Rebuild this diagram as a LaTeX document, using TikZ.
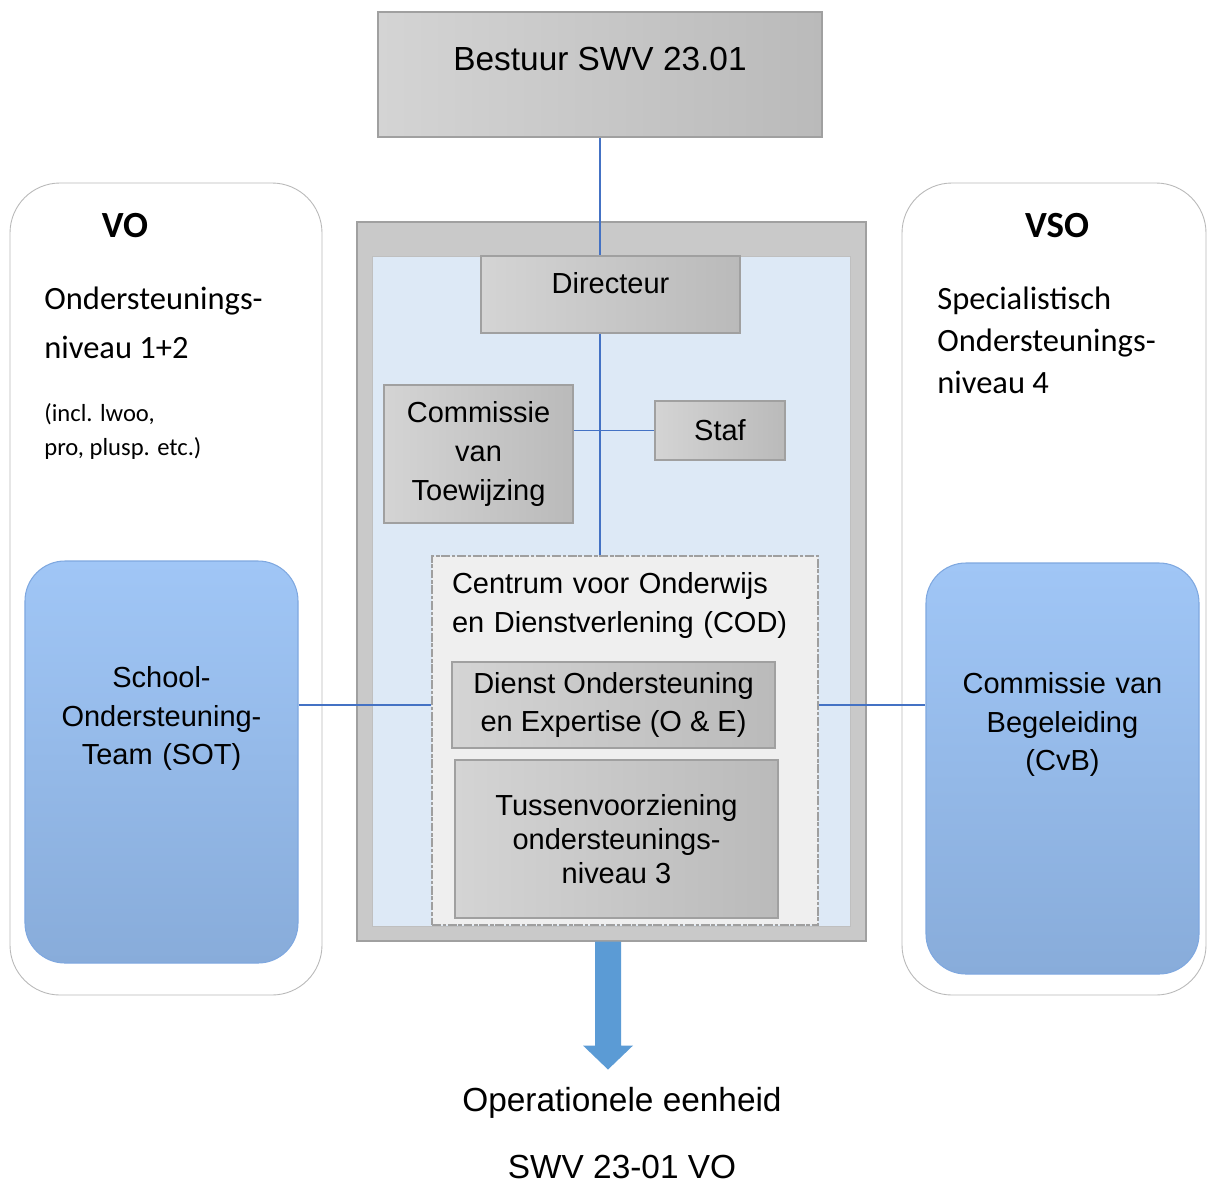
\documentclass[tikz,border=0pt]{standalone}
\usepackage{fontspec}
\setmainfont{Liberation Sans}
\newfontfamily\calibfont{Carlito}
\usetikzlibrary{positioning}
\definecolor{boxlight}{HTML}{D4D4D4}
\definecolor{boxdark}{HTML}{BABABA}
\definecolor{boxline}{HTML}{A0A0A0}
\definecolor{framefill}{HTML}{C9C9C9}
\definecolor{innerblue}{HTML}{DDE9F6}
\definecolor{codfill}{HTML}{EFEFEF}
\definecolor{teamlight}{HTML}{A0C6F6}
\definecolor{teamdark}{HTML}{88ACDA}
\definecolor{teamline}{HTML}{7FA8E0}
\definecolor{linkblue}{HTML}{4472C4}
\definecolor{arrowblue}{HTML}{5B9BD5}

\begin{document}
\begin{tikzpicture}[node distance=1.36cm,
                    grey box/.style={draw=boxline,line width=0.6pt,left color=boxlight,right color=boxdark,inner sep=0pt,align=center,font=\fontsize{16.5}{22}\selectfont},
                    team box/.style={draw=teamline,line width=0.6pt,top color=teamlight,bottom color=teamdark,rounded corners=0.8cm,inner sep=0pt,text width=5cm,align=center,font=\fontsize{16.5}{22}\selectfont},
                    side box/.style={draw=gray!55,line width=0.5pt,fill=white,rounded corners=1cm,inner sep=0pt},
                    side text/.style={anchor=base west,align=left,inner sep=0pt},
                    bottom text/.style={font=\fontsize{19}{23}\selectfont,text height=14pt,text depth=3pt,inner sep=3pt},
                    link/.style={draw=linkblue,line width=0.7pt}]
    \path[use as bounding box,fill=white] (0,0) rectangle (24.16,-23.66);

    % side columns
    \node[side box,minimum width=6.24cm,minimum height=16.24cm] (vobox) at (3.32,-11.78) {};
    \node[side box,minimum width=6.08cm,minimum height=16.24cm] (vsobox) at (21.08,-11.78) {};
    \node[font=\fontsize{21}{25}\selectfont\calibfont\bfseries] (vo) at (2.5,-4.52) {VO};
    \node[font=\fontsize{21}{25}\selectfont\calibfont\bfseries] (vso) at (21.14,-4.52) {VSO};
    \node[side text,font=\fontsize{18.5}{27.8}\selectfont\calibfont] (voniveau) at (0.88,-7.16) {Ondersteunings-\\niveau 1+2};
    \node[side text,font=\fontsize{14}{19.3}\selectfont\calibfont] (voincl) at (0.88,-9.10) {(incl. lwoo,\\pro, plusp. etc.)};
    \node[side text,font=\fontsize{18.5}{23.8}\selectfont\calibfont] (vsoniveau) at (18.74,-7.86) {Specialistisch\\Ondersteunings-\\niveau 4};
    \node[team box,minimum width=5.46cm,text height=2.53cm,text depth=5.51cm] (sot) at (3.23,-15.24) {School-\\Ondersteuning-\\Team (SOT)};
    \node[team box,minimum width=5.46cm,text height=2.61cm,text depth=5.61cm] (cvb) at (21.25,-15.37) {Commissie van\\Begeleiding\\(CvB)};

    % top and central block
    \node[grey box,minimum width=8.88cm,text height=1.16cm,text depth=1.34cm,font=\fontsize{19}{23}\selectfont] (bestuur) at (12.0,-1.49) {Bestuur SWV 23.01};
    \node[draw=boxline,fill=framefill,line width=0.6pt,inner sep=0pt,minimum width=10.18cm,minimum height=14.38cm] (frame) at (12.23,-11.63) {};
    \node[draw=gray!50,fill=innerblue,line width=0.5pt,inner sep=0pt,minimum width=9.56cm,minimum height=13.40cm] (inner) at (12.22,-11.82) {};
    \node[grey box,minimum width=5.18cm,text height=0.75cm,text depth=0.79cm] (dir) at (12.21,-5.89) {Directeur};
    \node[grey box,minimum width=3.78cm,minimum height=2.76cm] (cvt) at (9.57,-9.08) {Commissie\\van\\Toewijzing};
    \node[grey box,minimum width=2.60cm,minimum height=1.18cm] (staf) at (14.40,-8.61) {Staf};
    \node[draw=gray!75,dash pattern=on 5pt off 1pt on 2pt off 1pt,line width=1.3pt,fill=codfill,inner xsep=0.4cm,inner ysep=0pt,
          text width=6.92cm,align=left,text height=0.75cm,text depth=6.63cm,font=\fontsize{16.5}{22}\selectfont] (cod) at (12.50,-14.81) {Centrum voor Onderwijs\\en Dienstverlening (COD)};
    \node[grey box,minimum width=6.46cm,minimum height=1.72cm] (oe) at (12.27,-14.10) {Dienst Ondersteuning\\en Expertise (O \& E)};
    \node[grey box,minimum width=6.46cm,minimum height=3.16cm,font=\fontsize{16.5}{19.3}\selectfont] (tv) at (12.33,-16.78) {Tussenvoorziening\\ondersteunings-\\niveau 3};

    % connectors
    \draw[link] (bestuur.south) -- (bestuur.south |- dir.north);
    \draw[link] (bestuur.south |- dir.south) -- (bestuur.south |- cod.north);
    \draw[link] (cvt.east |- staf.west) -- (staf.west);
    \draw[link] (sot.east |- oe.west) -- (cod.west |- oe.west);
    \draw[link] (cod.east |- oe.east) -- (cvb.west |- oe.east);
    \fill[arrowblue] (frame.south) ++(-0.33,0) -- ++(0,-2.08) -- ++(-0.24,0) -- ++(0.50,-0.48) -- ++(0.50,0.48) -- ++(-0.24,0) -- ++(0,2.08) -- cycle;

    \node[bottom text] (opeen) at (12.44,-22.04) {Operationele eenheid};
    \node[bottom text,text depth=0pt,inner sep=1pt,below=0.59cm of opeen] (swvvo) {SWV 23-01 VO};
\end{tikzpicture}
\end{document}
